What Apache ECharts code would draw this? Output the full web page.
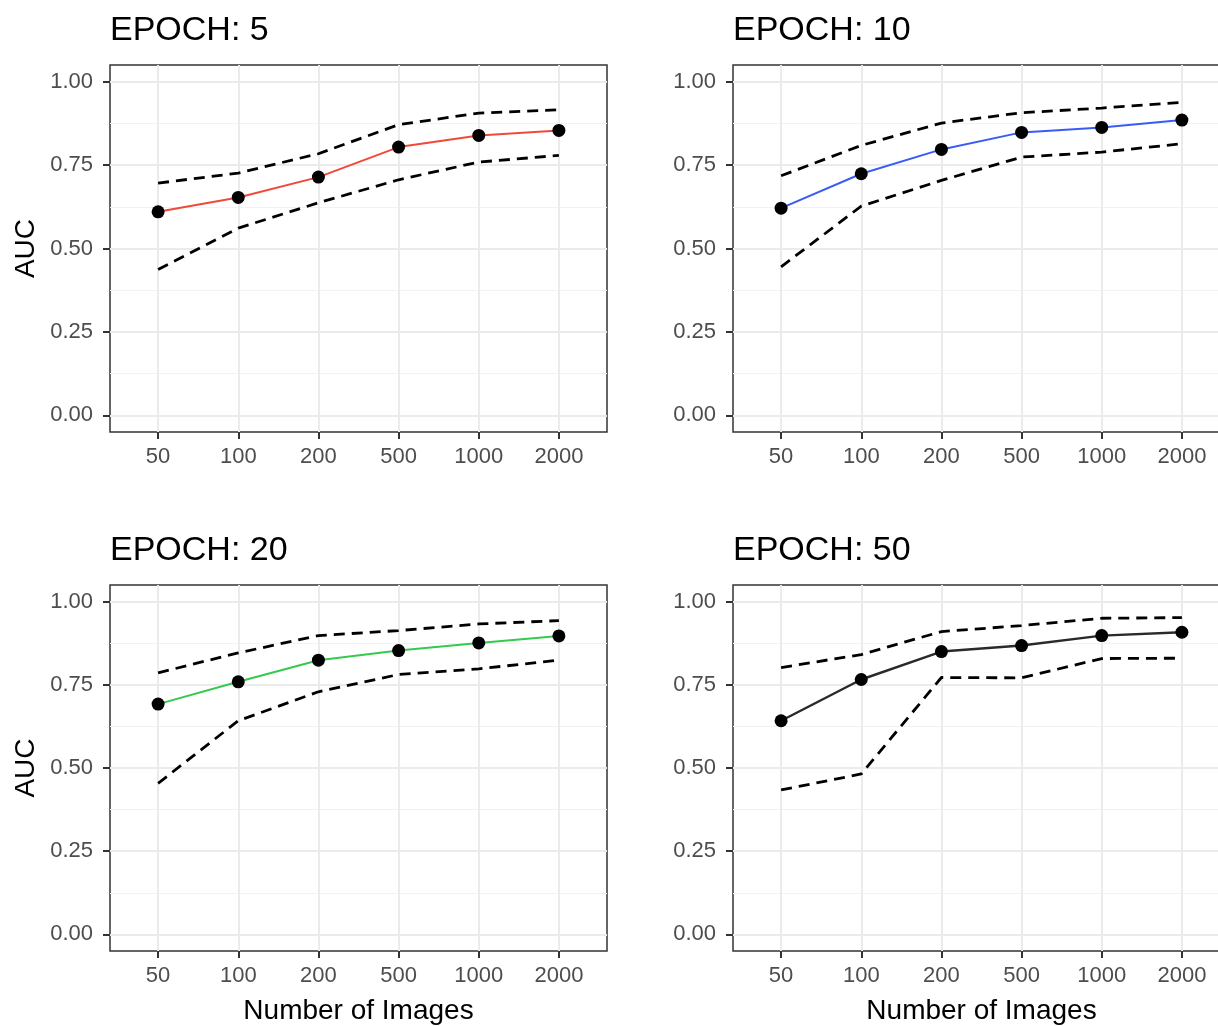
<!DOCTYPE html>
<html>
<head>
<meta charset="utf-8">
<title>AUC by number of images</title>
<script src="https://cdn.jsdelivr.net/npm/echarts@6/dist/echarts.min.js"></script>
<style>
  html, body { margin: 0; padding: 0; background: #fff; overflow: hidden; }
  #main { width: 1240px; height: 1026px; }
</style>
</head>
<body>
<div id="main"></div>
<script>
// categories on the x axis
var images = ['50', '100', '200', '500', '1000', '2000'];
var yTicks = [0, 0.25, 0.5, 0.75, 1];
var yMinor = [0.125, 0.375, 0.625, 0.875];

// values
var epoch5Mean  = [0.610, 0.653, 0.714, 0.804, 0.839, 0.854];
var epoch5Up    = [0.696, 0.726, 0.784, 0.871, 0.906, 0.916];
var epoch5Low   = [0.437, 0.561, 0.637, 0.706, 0.759, 0.779];

var epoch10Mean = [0.621, 0.724, 0.797, 0.848, 0.863, 0.885];
var epoch10Up   = [0.718, 0.809, 0.876, 0.907, 0.921, 0.938];
var epoch10Low  = [0.445, 0.627, 0.704, 0.774, 0.789, 0.814];

var epoch20Mean = [0.692, 0.759, 0.824, 0.853, 0.876, 0.897];
var epoch20Up   = [0.786, 0.846, 0.898, 0.913, 0.933, 0.943];
var epoch20Low  = [0.454, 0.642, 0.729, 0.781, 0.798, 0.824];

var epoch50Mean = [0.642, 0.766, 0.850, 0.868, 0.898, 0.908];
var epoch50Up   = [0.802, 0.841, 0.910, 0.928, 0.950, 0.952];
var epoch50Low  = [0.434, 0.482, 0.772, 0.771, 0.829, 0.830];

var panels = [
  { title: 'EPOCH: 5',  mean: epoch5Mean,  up: epoch5Up,  low: epoch5Low,  color: '#F0493A', width: 2 },
  { title: 'EPOCH: 10', mean: epoch10Mean, up: epoch10Up, low: epoch10Low, color: '#3A5CF5', width: 2 },
  { title: 'EPOCH: 20', mean: epoch20Mean, up: epoch20Up, low: epoch20Low, color: '#35C94F', width: 2 },
  { title: 'EPOCH: 50', mean: epoch50Mean, up: epoch50Up, low: epoch50Low, color: '#2a2a2a', width: 2.4 }
];

var font = 'Liberation Sans, Arial, Helvetica, sans-serif';
var lefts = [110, 733, 110, 733];
var tops = [65, 65, 585, 585];
var pw = 497, ph = 367;

function pairs(arr) {
  return arr.map(function (v, i) { return [i, v]; });
}

var option = {
  backgroundColor: '#fff',
  animation: false,
  title: [],
  grid: [],
  xAxis: [],
  yAxis: [],
  series: []
};

panels.forEach(function (p, k) {
  option.title.push({
    text: p.title,
    left: lefts[k],
    top: tops[k] - 51,
    padding: 0,
    textStyle: { fontFamily: font, fontSize: 34, fontWeight: 'normal', color: '#000' }
  });
  option.grid.push({
    left: lefts[k], top: tops[k], width: pw, height: ph,
    show: true, borderColor: '#333', borderWidth: 1.5, backgroundColor: '#fff'
  });
  option.xAxis.push({
    type: 'value', gridIndex: k, min: -0.6, max: 5.6,
    name: k >= 2 ? 'Number of Images' : '',
    nameLocation: 'middle', nameGap: 46,
    nameTextStyle: { fontFamily: font, fontSize: 28, color: '#000' },
    axisLine: { show: false, onZero: false },
    axisTick: { show: true, length: 7, customValues: [0, 1, 2, 3, 4, 5], lineStyle: { color: '#333', width: 2 } },
    axisLabel: {
      customValues: [0, 1, 2, 3, 4, 5], margin: 14,
      fontFamily: font, fontSize: 22, color: '#4D4D4D',
      formatter: function (v) { return images[Math.round(v)]; }
    },
    splitLine: { show: true, lineStyle: { color: '#EBEBEB', width: 2 } }
  });
  // major y axis
  option.yAxis.push({
    type: 'value', gridIndex: k, min: -0.05, max: 1.05,
    name: (k % 2 === 0) ? 'AUC' : '',
    nameLocation: 'middle', nameGap: 70,
    nameTextStyle: { fontFamily: font, fontSize: 28, color: '#000' },
    axisLine: { show: false, onZero: false },
    axisTick: { show: true, length: 7, customValues: yTicks, lineStyle: { color: '#333', width: 2 } },
    axisLabel: {
      customValues: yTicks, margin: 17,
      fontFamily: font, fontSize: 22, color: '#4D4D4D',
      formatter: function (v) { return v.toFixed(2); }
    },
    splitLine: { show: true, lineStyle: { color: '#EBEBEB', width: 2 } }
  });
  // minor grid lines
  option.yAxis.push({
    type: 'value', gridIndex: k, min: -0.05, max: 1.05, position: 'left',
    axisLine: { show: false, onZero: false },
    axisTick: { show: false, customValues: yMinor },
    axisLabel: { show: false, customValues: yMinor },
    splitLine: { show: true, lineStyle: { color: '#F2F2F2', width: 1.2 } }
  });

  var dash = { color: '#000', width: 2.8, type: [11, 7] };
  option.series.push({
    type: 'line', xAxisIndex: k, yAxisIndex: 2 * k, data: pairs(p.up),
    showSymbol: false, lineStyle: dash, z: 3
  });
  option.series.push({
    type: 'line', xAxisIndex: k, yAxisIndex: 2 * k, data: pairs(p.low),
    showSymbol: false, lineStyle: dash, z: 3
  });
  option.series.push({
    type: 'line', xAxisIndex: k, yAxisIndex: 2 * k, data: pairs(p.mean),
    symbol: 'circle', symbolSize: 13, showSymbol: true,
    itemStyle: { color: '#000' },
    lineStyle: { color: p.color, width: p.width }, z: 4
  });
});

var chart = echarts.init(document.getElementById('main'));
chart.setOption(option);
</script>
</body>
</html>
